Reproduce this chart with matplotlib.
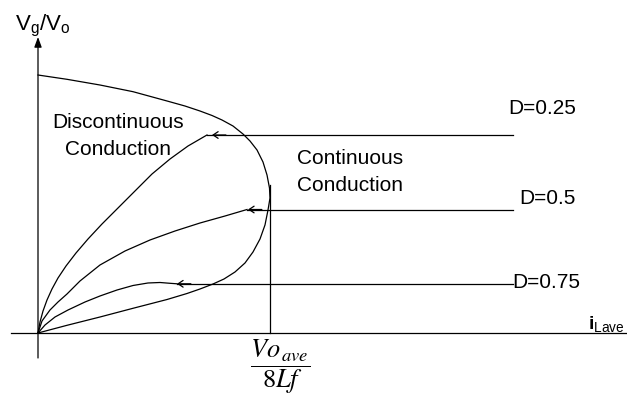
import numpy as np
import matplotlib.pyplot as plt

plt.rcParams['font.family'] = 'Liberation Sans'
plt.rcParams['mathtext.fontset'] = 'custom'
plt.rcParams['mathtext.rm'] = 'Liberation Sans'
plt.rcParams['mathtext.it'] = 'Liberation Sans:italic'
plt.rcParams['mathtext.bf'] = 'Liberation Sans:bold'

## x = i_Lave / (Vo_ave/8Lf), y = Vg/Vo (normalizado)

## fronteira entre conducao continua e descontinua
borda_x = [0, 0.1250, 0.2672, 0.4095, 0.5560, 0.6336, 0.6983, 0.7500, 0.7931,
           0.8405, 0.8836, 0.9138, 0.9440, 0.9698, 0.9871, 0.9978, 1.0,
           0.9914, 0.9784, 0.9569, 0.9267, 0.8922, 0.8491, 0.8017, 0.7543,
           0.6983, 0.6422, 0.5560, 0.4095, 0.2672, 0.1250, 0]
borda_y = [0.9961, 0.9795, 0.9575, 0.9317, 0.8958, 0.8764, 0.8571, 0.8398, 0.8224,
           0.7992, 0.7683, 0.7413, 0.7066, 0.6602, 0.6100, 0.5598, 0.5212,
           0.4749, 0.4170, 0.3629, 0.3127, 0.2703, 0.2355, 0.2085, 0.1892,
           0.1699, 0.1525, 0.1293, 0.0954, 0.0618, 0.0297, 0]

## D = 0.25
d25_x = [0, 0.0086, 0.0216, 0.0388, 0.0603, 0.0862, 0.1207, 0.1638, 0.2155,
         0.2759, 0.3448, 0.4181, 0.4914, 0.5690, 0.6466, 0.7284]
d25_y = [0, 0.0425, 0.0849, 0.1274, 0.1699, 0.2124, 0.2587, 0.3089, 0.3629,
         0.4209, 0.4826, 0.5483, 0.6139, 0.6718, 0.7220, 0.7645]

## D = 0.5
d50_x = [0, 0.0172, 0.0517, 0.0862, 0.1250, 0.1810, 0.2672, 0.3750, 0.4828,
         0.5905, 0.6983, 0.8060, 0.9009]
d50_y = [0, 0.0463, 0.0888, 0.1197, 0.1506, 0.2008, 0.2626, 0.3166, 0.3591,
         0.3938, 0.4247, 0.4517, 0.4768]

## D = 0.75
d75_x = [0, 0.0302, 0.0733, 0.1293, 0.2026, 0.2672, 0.3405, 0.4095, 0.4741,
         0.5259, 0.5690, 0.5991]
d75_y = [0, 0.0309, 0.0618, 0.0888, 0.1197, 0.1429, 0.1660, 0.1834, 0.1931,
         0.1950, 0.1919, 0.1900]

rotulos = ['D=0.25', 'D=0.5', 'D=0.75']
seta_x = [0.750, 0.905, 0.599]   ## ponta da seta em cada reta
fim_x = 2.047                    ## fim das retas horizontais
limite = 1.0                     ## Vo_ave/8Lf
limite_y = 0.571

fig = plt.figure(figsize=(6.27, 3.97), dpi=100)
ax = fig.add_axes([0, 0, 1, 1])
ax.set_xlim(-0.1638, 2.5388)
ax.set_ylim(-0.2471, 1.2857)
ax.axis('off')

lw = 0.9
## eixos
ax.plot([-0.1164, 2.5388], [0, 0], color='black', lw=lw)
ax.annotate('', xy=(0, 1.1429), xytext=(0, -0.0965),
            arrowprops=dict(arrowstyle='-|>,head_length=0.6,head_width=0.22',
                            lw=lw, color='black', shrinkA=0, shrinkB=0))

ax.plot(borda_x, borda_y, color='black', lw=lw)
ax.plot([limite, limite], [0, limite_y], color='black', lw=lw)

curvas = [(d25_x, d25_y), (d50_x, d50_y), (d75_x, d75_y)]
posicoes = [(2.0259, 0.8687), (2.0733, 0.5212), (2.0431, 0.1931)]
for (cx, cy), sx, rot, pos in zip(curvas, seta_x, rotulos, posicoes):
    ax.plot(cx, cy, color='black', lw=lw)
    y = cy[-1]
    ax.plot([cx[-1], fim_x], [y, y], color='black', lw=lw)
    ax.annotate('', xy=(sx, y), xytext=(sx + 0.06, y),
                arrowprops=dict(arrowstyle='->,head_length=0.36,head_width=0.24',
                                lw=lw, color='black', shrinkA=0, shrinkB=0))
    ax.text(pos[0], pos[1], rot, fontsize=15, ha='left', va='center')

ax.text(0.3448, 0.7606, 'Discontinuous\nConduction', fontsize=15,
        ha='center', va='center', linespacing=1.5)
ax.text(1.3448, 0.6216, 'Continuous\nConduction', fontsize=15,
        ha='center', va='center', linespacing=1.5)

ax.text(-0.0991, 1.1699, r'$\mathrm{V_g/V_o}$', fontsize=16,
        ha='left', va='baseline', math_fontfamily='custom')
ax.text(2.3707, 0.0154, r'$\mathbf{i}_{\mathrm{Lave}}$', fontsize=14,
        ha='left', va='baseline', math_fontfamily='custom')
ax.text(1.0453, -0.1313, r'$\dfrac{Vo_{\,ave}}{8Lf}$', fontsize=19,
        ha='center', va='center', math_fontfamily='stix')

fig.savefig('out.png', dpi=100)
